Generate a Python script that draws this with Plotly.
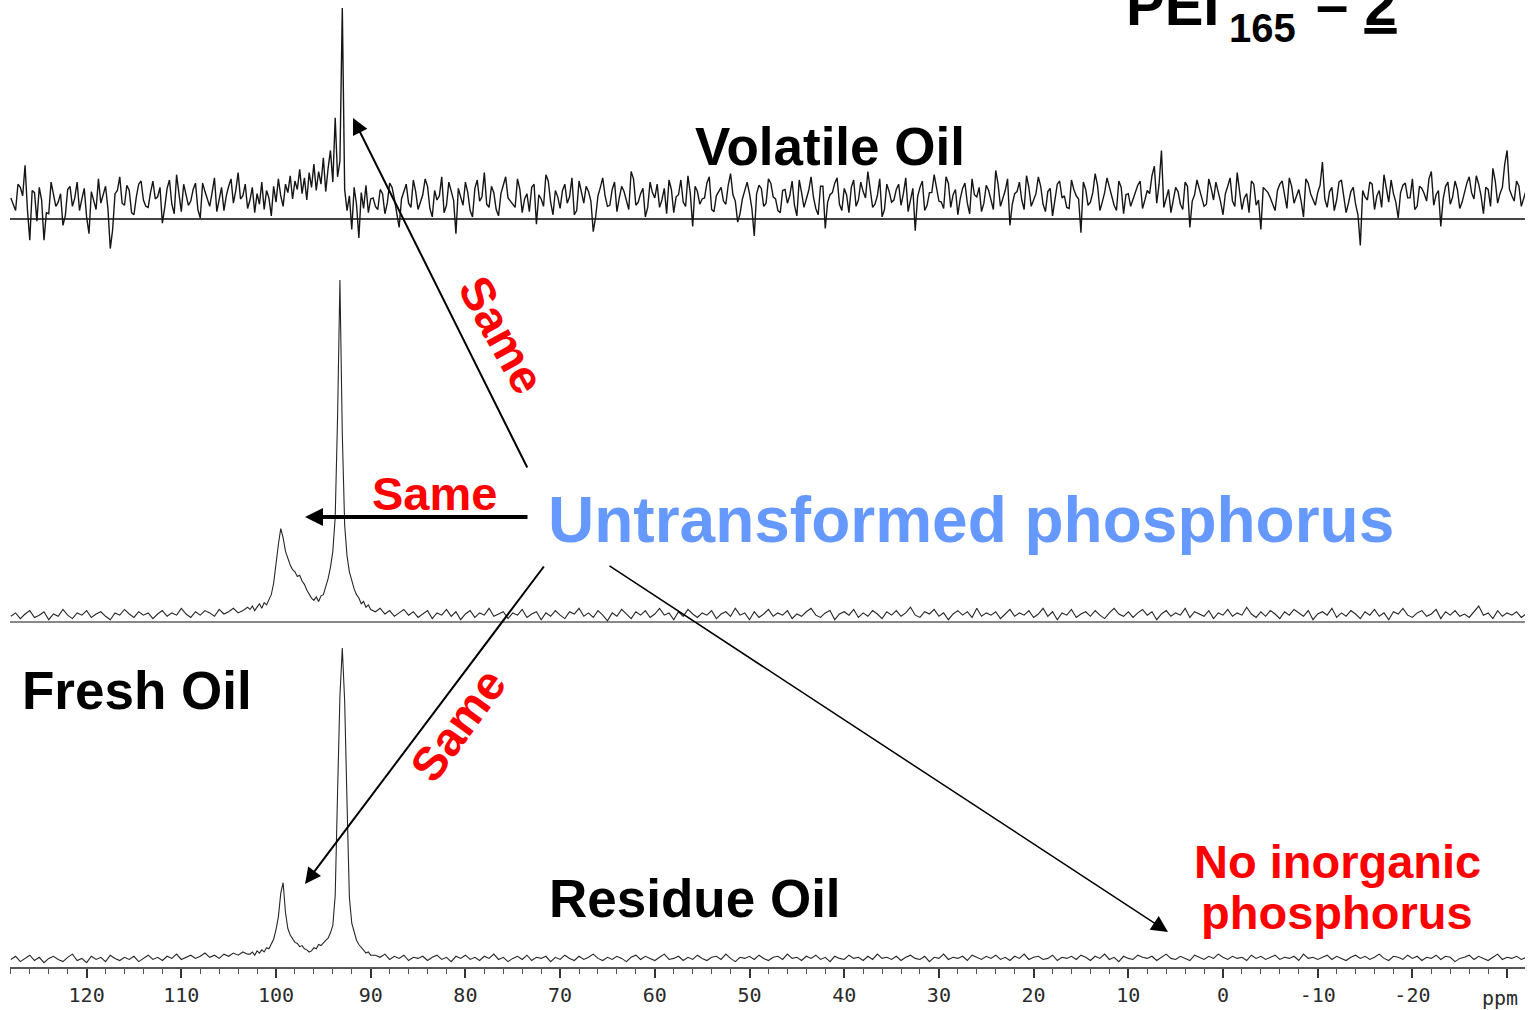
import plotly.graph_objects as go

W, H = 1528, 1010

# ---------------- data ----------------
# ppm sampling grid: coarse left, fine around the peaks, coarse right
LEFT_PPM = [128 - 0.5 * i for i in range(51)]
LEFT_MID_PPM = [127.75 - 0.5 * i for i in range(50)]
PEAK_PPM = [102.75 - 0.25 * i for i in range(52)]
RIGHT_PPM = [89.5 - 0.5 * i for i in range(244)]
RIGHT_MID_PPM = [89.75 - 0.5 * i for i in range(244)]

# Volatile oil (arbitrary intensity, main peak = 200)
VOLATILE_LEFT = [20, 8, 30, 51, -20, 25, 30, -20, 5, 22,
                 16, -6, 28, 12, 35, 19, 2, 26, 9, 15,
                 31, -28, 24, 40, 13, 27, 4, 33, 18, 11,
                 36, 21, -4, 29, 14, 42, 7, 23, 17, 34,
                 1, 26, 12, 39, 20, 8, 31, 15, 44, 22,
                 10]
VOLATILE_LEFT_MID = [14, 33, 22, 9, 27, -2, 18, 6, 35, 12,
                     24, 3, 31, 20, 8, 29, -14, 17, 38, 23,
                     10, -10, 27, 15, 32, 6, 21, 36, 12, 25,
                     19, 30, 11, 37, 5, 24, 33, 13, 28, 9,
                     34, 18, 25, 7, 30, 22, 38, 27, 19, 33]
VOLATILE_PEAK = [18, 30, 6, 24, 14, 35, 9, 27, 20, 3,
                 31, 16, 38, 22, 12, 33, 25, 41, 19, 36,
                 28, 47, 24, 39, 18, 44, 30, 52, 27, 45,
                 33, 58, 26, 48, 65, 35, 96, 40, 55, 200,
                 28, 8, 22, -10, 30, 14, -18, 25, 10, 32,
                 6, 19]
VOLATILE_RIGHT = [12, 28, 5, 34, 19, -8, 26, 15, 37, 9,
                  23, 31, 2, 18, 40, 13, 27, -14, 21, 35,
                  8, 29, 17, 44, 11, 25, 3, 32, 20, 14,
                  38, 6, 24, 30, -5, 19, 42, 16, 27, 10,
                  33, 21, 4, 36, 15, 26, -12, 22, 39, 12,
                  28, 7, 31, 18, 45, 13, 24, 2, 35, 20,
                  11, 29, 37, 6, 23, 16, 41, -7, 26, 19,
                  34, 9, 22, 30, 14, 43, 17, 5, 28, 24,
                  -16, 32, 12, 38, 21, 8, 27, 15, 36, 3,
                  25, 19, 40, 10, 31, -9, 23, 34, 14, 29,
                  6, 37, 18, 26, 45, 11, 22, 2, 33, 16,
                  28, 13, 39, 20, -11, 30, 8, 25, 42, 17,
                  10, 34, 23, 4, 29, 15, 38, 21, 7, 32,
                  18, 46, 12, 27, -6, 24, 35, 9, 30, 19,
                  40, 14, 26, 3, 33, 20, 11, 37, 22, -13,
                  28, 16, 43, 8, 25, 31, 13, 36, 5, 24,
                  19, 32, 10, 27, 41, 15, 65, 21, 6, 30,
                  14, 35, -8, 23, 29, 12, 38, 18, 26, 4,
                  31, 17, 44, 9, 24, 36, 13, -10, 27, 20,
                  8, 33, 22, 39, 15, 28, 2, 34, 19, 25,
                  54, 11, 30, 18, 37, 6, 26, 14, -25, 21,
                  35, 9, 27, 42, 16, 24, 1, 32, 20, 38,
                  12, 29, 17, 45, 23, -7, 31, 14, 36, 10,
                  26, 40, 19, 33, 5, 28, 48, 15, 30, 65,
                  22, 36, 12, 27]
VOLATILE_RIGHT_MID = [20, 9, 24, 15, 30, 3, 19, 33, 11, 26,
                      16, 38, 10, 27, 22, 6, 35, 18, 29, 13,
                      25, 2, 37, 21, 14, 31, 9, 24, 40, 17,
                      11, 28, 19, 7, 33, 23, 12, 36, 4, 21,
                      27, 15, 39, 8, 24, 31, 17, 2, 30, 22,
                      13, 35, 20, 26, 9, 38, 16, 29, 11, 25,
                      33, 18, 5, 28, 21, 37, 12, 24, 31, 14,
                      20, 40, 7, 26, 17, 32, 23, -3, 19, 35,
                      10, 24, 29, 15, 34, 19, 6, 28, 22, 13,
                      37, 11, 27, 21, 4, 31, 16, 25, 39, 8,
                      23, 30, 12, 35, 20, 27, 14, 38, 9, 26,
                      18, 33, 24, 7, 29, 21, 36, 13, 25, 31,
                      16, 40, 11, 28, 19, 34, 5, 23, 30, 15,
                      27, 9, 33, 20, 38, 14, 26, 18, 41, 12,
                      24, 31, 7, 29, 17, 36, 22, 10, 28, 19,
                      35, 13, 25, 32, 16, 39, 21, 8, 30, 23,
                      12, 27, 36, 18, 24, 50, 33, 11, 28, 20,
                      26, 9, 31, 17, 37, 22, 14, 29, 35, 16,
                      24, 39, 12, 28, 20, 6, 33, 18, 30, 25,
                      14, 27, 36, 10, 31, 21, 17, 38, 24, 13,
                      32, 19, 26, 8, 35, 23, 15, 30, 4, 27,
                      18, 33, 22, 11, 29, 37, 16, 25, 34, 20,
                      9, 31, 24, 38, 13, 27, 19, 35, 21, 28,
                      16, 34, 25, 41, 22, 30, 12, 36, 24, 52,
                      28, 17, 31, 20]

# Fresh oil (main peak = 300)
FRESH_LEFT = [5, 8, 3, 7, 10, 4, 6, 9, 2, 7,
              5, 11, 6, 3, 8, 6, 10, 4, 7, 9,
              5, 2, 8, 6, 11, 7, 4, 9, 6, 8,
              3, 7, 10, 5, 8, 6, 12, 7, 4, 9,
              6, 10, 8, 5, 11, 7, 9, 12, 8, 10,
              13]
FRESH_PEAK = [11, 14, 10, 13, 16, 12, 17, 15, 20, 24,
              34, 52, 68, 82, 74, 62, 55, 50, 46, 44,
              40, 41, 36, 33, 28, 24, 21, 19, 22, 18,
              23, 24, 30, 38, 48, 62, 92, 180, 300, 165,
              85, 58, 44, 36, 29, 24, 21, 16, 18, 13,
              15, 11]
FRESH_RIGHT = [9, 12, 7, 10, 5, 8, 11, 6, 9, 4,
               7, 10, 3, 8, 6, 11, 5, 9, 2, 7,
               10, 4, 8, 6, 12, 5, 7, 9, 3, 8,
               6, 11, 4, 7, 9, 2, 8, 5, 10, 6,
               3, 9, 7, 12, 5, 8, 4, 10, 6, 1,
               8, 5, 11, 7, 3, 9, 6, 10, 4, 7,
               12, 6, 8, 2, 9, 5, 11, 7, 4, 8,
               6, 10, 3, 7, 9, 5, 12, 6, 8, 2,
               9, 4, 7, 11, 5, 8, 6, 10, 3, 7,
               5, 9, 12, 6, 4, 8, 10, 2, 7, 9,
               6, 11, 4, 8, 5, 10, 7, 3, 9, 6,
               10, 5, 8, 13, 6, 4, 9, 7, 11, 5,
               8, 2, 7, 10, 6, 9, 4, 12, 5, 8,
               6, 9, 3, 7, 11, 5, 8, 6, 10, 4,
               7, 12, 5, 9, 2, 8, 6, 11, 4, 7,
               9, 5, 10, 6, 3, 8, 12, 7, 5, 9,
               4, 8, 11, 6, 9, 2, 7, 10, 5, 8,
               6, 12, 4, 9, 7, 5, 10, 3, 8, 6,
               11, 5, 8, 6, 13, 7, 4, 9, 5, 10,
               7, 3, 9, 6, 11, 8, 5, 10, 2, 7,
               9, 6, 12, 4, 8, 5, 10, 7, 3, 9,
               6, 11, 5, 8, 2, 9, 7, 12, 6, 4,
               8, 10, 5, 7, 11, 3, 9, 6, 10, 5,
               7, 4, 9, 14, 6, 8, 3, 10, 5, 8,
               6, 9, 4, 7]

# Residue oil (main peak = 300)
RESIDUE_LEFT = [8, 11, 6, 9, 12, 7, 10, 5, 9, 11,
                8, 6, 10, 13, 7, 9, 5, 11, 8, 10,
                6, 12, 9, 7, 10, 8, 11, 6, 9, 12,
                8, 10, 7, 11, 9, 13, 8, 10, 12, 9,
                11, 14, 10, 12, 9, 13, 11, 14, 12, 15,
                13]
RESIDUE_PEAK = [13, 15, 12, 16, 14, 17, 15, 19, 18, 22,
                27, 36, 48, 70, 80, 52, 37, 31, 28, 24,
                23, 20, 21, 18, 17, 15, 16, 19, 18, 22,
                21, 24, 26, 28, 33, 40, 68, 165, 255, 300,
                250, 155, 66, 42, 33, 26, 22, 19, 17, 14,
                15, 12]
RESIDUE_RIGHT = [12, 10, 13, 8, 11, 9, 12, 7, 10, 9,
                 11, 7, 10, 12, 8, 10, 6, 11, 9, 12,
                 8, 10, 7, 11, 9, 13, 8, 10, 6, 9,
                 11, 8, 12, 7, 10, 9, 11, 6, 10, 8,
                 12, 9, 7, 11, 8, 10, 13, 9, 7, 10,
                 8, 11, 9, 6, 10, 12, 8, 11, 9, 7,
                 10, 13, 8, 9, 11, 7, 10, 8, 12, 9,
                 7, 10, 11, 8, 13, 9, 6, 10, 9, 11,
                 8, 12, 9, 7, 10, 11, 8, 13, 9, 10,
                 7, 11, 9, 12, 8, 10, 6, 11, 9, 8,
                 12, 9, 10, 7, 11, 8, 13, 9, 10, 8,
                 11, 7, 10, 12, 9, 8, 11, 6, 10, 9,
                 13, 8, 10, 9, 11, 7, 12, 10, 8, 11,
                 9, 12, 8, 10, 7, 11, 9, 13, 8, 10,
                 11, 8, 9, 12, 7, 10, 9, 11, 8, 12,
                 10, 7, 11, 9, 13, 8, 10, 6, 11, 9,
                 8, 12, 10, 9, 11, 7, 10, 13, 9, 8,
                 11, 9, 7, 12, 10, 8, 11, 9, 13, 10,
                 8, 11, 9, 10, 7, 12, 9, 11, 8, 10,
                 12, 8, 10, 9, 11, 7, 13, 9, 10, 8,
                 10, 12, 8, 11, 9, 7, 10, 12, 9, 11,
                 8, 10, 13, 9, 7, 11, 10, 8, 12, 9,
                 11, 7, 10, 9, 12, 8, 11, 10, 6, 9,
                 10, 12, 8, 11, 9, 7, 10, 13, 8, 10,
                 9, 11, 8, 10]

TICK_VALUES = [120, 110, 100, 90, 80, 70, 60, 50, 40, 30, 20, 10, 0, -10, -20, -30]
TICK_LABELS = ["120", "110", "100", "90", "80", "70", "60", "50", "40", "30",
               "20", "10", "0", "-10", "-20", ""]

# sanity checks on lengths
for a, b in [(LEFT_PPM, VOLATILE_LEFT), (LEFT_MID_PPM, VOLATILE_LEFT_MID),
             (PEAK_PPM, VOLATILE_PEAK), (RIGHT_PPM, VOLATILE_RIGHT),
             (RIGHT_MID_PPM, VOLATILE_RIGHT_MID),
             (LEFT_PPM, FRESH_LEFT), (PEAK_PPM, FRESH_PEAK), (RIGHT_PPM, FRESH_RIGHT),
             (LEFT_PPM, RESIDUE_LEFT), (PEAK_PPM, RESIDUE_PEAK), (RIGHT_PPM, RESIDUE_RIGHT)]:
    assert len(a) == len(b), (len(a), len(b))


def merge_sorted(pairs):
    pts = sorted(pairs, key=lambda p: -p[0])
    return [p[0] for p in pts], [p[1] for p in pts]


PPM = LEFT_PPM + PEAK_PPM + RIGHT_PPM
VOL_X, VOL_Y = merge_sorted(list(zip(LEFT_PPM, VOLATILE_LEFT)) +
                            list(zip(LEFT_MID_PPM, VOLATILE_LEFT_MID)) +
                            list(zip(PEAK_PPM, VOLATILE_PEAK)) +
                            list(zip(RIGHT_PPM, VOLATILE_RIGHT)) +
                            list(zip(RIGHT_MID_PPM, VOLATILE_RIGHT_MID)))
FRESH = FRESH_LEFT + FRESH_PEAK + FRESH_RIGHT
RESIDUE = RESIDUE_LEFT + RESIDUE_PEAK + RESIDUE_RIGHT


# ---------------- layout helpers ----------------
def px(x):
    return x / W


def py(y):
    return 1 - y / H


def y_domain(y_zero, y_top, top_val, low_val):
    scale = (y_zero - y_top) / top_val
    y_low = y_zero - low_val * scale
    return [py(y_low), py(y_top)], [low_val, top_val]


dom1, rng1 = y_domain(219, 8, 200, -40)
dom2, rng2 = y_domain(622, 280, 300, -20)
dom3, rng3 = y_domain(968, 648, 300, -5)

fig = go.Figure()
fig.add_trace(go.Scatter(x=VOL_X, y=VOL_Y, mode="lines", yaxis="y",
                         line=dict(color="#151515", width=1.4), hoverinfo="skip"))
fig.add_trace(go.Scatter(x=PPM, y=FRESH, mode="lines", yaxis="y2",
                         line=dict(color="#262626", width=1.1), hoverinfo="skip"))
fig.add_trace(go.Scatter(x=PPM, y=RESIDUE, mode="lines", yaxis="y3",
                         line=dict(color="#262626", width=1.1), hoverinfo="skip"))

hidden_y = dict(showticklabels=False, ticks="", showgrid=False, showline=False, anchor="x")
MONO = "DejaVu Sans Mono, Liberation Mono, monospace"

fig.update_layout(
    width=W, height=H,
    margin=dict(l=0, r=0, t=0, b=0),
    paper_bgcolor="white", plot_bgcolor="white",
    showlegend=False,
    xaxis=dict(
        domain=[px(10), px(1525)],
        range=[128.09, -31.89],
        anchor="free", position=py(968),
        showline=True, linecolor="#555555", linewidth=2,
        showgrid=False, zeroline=False,
        tickmode="array", tickvals=TICK_VALUES, ticktext=TICK_LABELS,
        ticks="outside", ticklen=9, tickwidth=1.5, tickcolor="#333333",
        minor=dict(tickmode="linear", tick0=0, dtick=2, ticks="outside",
                   ticklen=5, tickwidth=1, tickcolor="#555555"),
        tickfont=dict(family=MONO, size=20, color="#2a2a2a"),
    ),
    yaxis=dict(domain=dom1, range=rng1, zeroline=True, zerolinecolor="#444444",
               zerolinewidth=1.5, **hidden_y),
    yaxis2=dict(domain=dom2, range=rng2, zeroline=True, zerolinecolor="#888888",
                zerolinewidth=1.5, **hidden_y),
    yaxis3=dict(domain=dom3, range=rng3, zeroline=False, **hidden_y),
)

SANS = "Liberation Sans, Arial, sans-serif"
RED = "#ff0000"
BLUE = "#6699ff"


def text(t, cx, cy, size, color="black", angle=0, xanchor="center"):
    fig.add_annotation(text=t, x=px(cx), y=py(cy), xref="paper", yref="paper",
                       xanchor=xanchor, yanchor="middle", showarrow=False,
                       textangle=angle,
                       font=dict(family=SANS, size=size, color=color))


def arrow(hx, hy, tx, ty, width, size):
    fig.add_annotation(text="", x=px(hx), y=py(hy), xref="paper", yref="paper",
                       ax=tx - hx, ay=ty - hy, axref="pixel", ayref="pixel",
                       showarrow=True, arrowhead=2, arrowsize=size,
                       arrowwidth=width, arrowcolor="black")


# title pieces
text("<b>PEI</b>", 1124, 25 - 0.347 * 58, 58, xanchor="left")
text("<b>165</b>", 1227, 42 - 0.347 * 40, 40, xanchor="left")
text("<b>– <u>2</u></b>", 1314, 25 - 0.347 * 58, 58, xanchor="left")

text("<b>Volatile Oil</b>", 830, 146, 53)
text("<b>Fresh Oil</b>", 137, 690, 53)
text("<b>Residue Oil</b>", 695, 898, 53)
text("<b>Untransformed phosphorus</b>", 971, 520, 64, BLUE)
text("<b>Same</b>", 434, 493, 47, RED)
text("<b>Same</b>", 502, 334, 47, RED, angle=61)
text("<b>Same</b>", 457, 725, 47, RED, angle=-54)
text("<b>No inorganic</b>", 1337, 861, 47, RED)
text("<b>phosphorus</b>", 1337, 912, 47, RED)
fig.add_annotation(text="ppm", x=px(1500), y=py(998), xref="paper", yref="paper",
                   showarrow=False, xanchor="center", yanchor="middle",
                   font=dict(family=MONO, size=20, color="#2a2a2a"))

arrow(353, 118, 528, 469, 2, 1.6)
arrow(305, 517, 529, 517, 4, 0.9)
arrow(305, 884, 545, 565, 2, 1.6)
arrow(1168, 932, 608, 565, 1.5, 2.2)

fig.write_html("out.html",
               config={"displayModeBar": False},
               post_script="document.body.style.margin='0';"
                           "document.body.style.overflow='hidden';")
